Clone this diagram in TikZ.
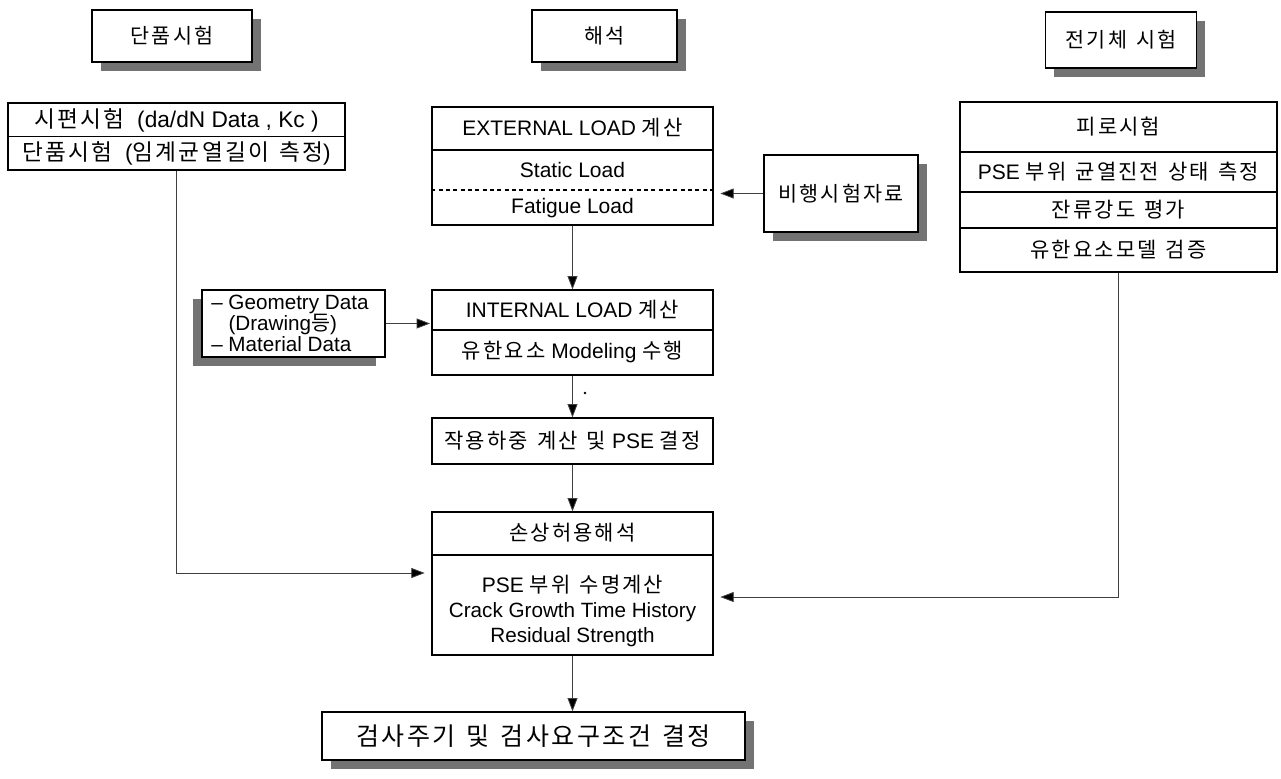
\documentclass[tikz,border=0pt]{standalone}
\usepackage{fontspec}
\setmainfont{Liberation Sans}
\newfontfamily\kr[LetterSpace=10,WordSpace=1.35]{Noto Sans CJK KR}
\newcommand{\hg}[1]{{\kr #1}}
\usetikzlibrary{arrows.meta,shadows,calc}
\begin{document}
\begin{tikzpicture}[x=0.75pt,y=-0.75pt,
  box/.style={draw, line width=1pt, fill=white, inner sep=0pt, font=\fontsize{15.5}{18}\selectfont},
  shad/.style={drop shadow={shadow xshift=6.5pt, shadow yshift=-6.5pt, fill=black!55, opacity=1}},
  lshad/.style={drop shadow={shadow xshift=-7pt, shadow yshift=-7pt, fill=black!55, opacity=1}},
  txt/.style={inner sep=0pt, font=\fontsize{15.75}{18}\selectfont},
  conn/.style={draw=black!75, line width=0.6pt, -{Triangle[length=10pt,width=7.5pt,fill=black]}},
  div/.style={line width=0.8pt}
]
\useasboundingbox (0,0) rectangle (1281,778);

% header boxes
\node[box,shad,minimum width=120pt,minimum height=39pt] (h1) at (172,36) {\hg{단품시험}};
\node[box,shad,minimum width=108.75pt,minimum height=39pt] (h2) at (604.5,36) {\hg{해석}};
\node[box,shad,minimum width=113.25pt,minimum height=42pt] (h3) at (1121,40) {\hg{전기체 시험}};

% left box
\node[box,minimum width=252.75pt,minimum height=50.25pt] (L) at (176.5,136.5) {};
\draw[div] (L.west) -- (L.east);
\node[txt,font=\fontsize{17}{20}\selectfont] (L1) at (176.5,120) {\hg{시편시험} \ (da/dN Data , Kc )};
\node[txt,font=\fontsize{17}{20}\selectfont] (L2) at (176.5,153) {\hg{단품시험} \ (\hg{임계균열길이 측정})};

% external load box
\node[box,minimum width=210.75pt,minimum height=88.5pt] (E) at (572.5,166) {};
\draw[div] (E.west |- 0,150) -- (E.east |- 0,150);
\draw[div, dash pattern=on 3pt off 2.5pt] (E.west |- 0,190) -- (E.east |- 0,190);
\node[txt] (E1) at (572.5,128) {EXTERNAL LOAD \hg{계산}};
\node[txt] (E2) at (572.5,170) {Static Load};
\node[txt] (E3) at (572.5,208) {Fatigue Load};

% flight test data
\node[box,shad,minimum width=115.5pt,minimum height=57.75pt] (F) at (841,193.5) {\hg{비행시험자료}};

% right box
\node[box,minimum width=237.75pt,minimum height=127.5pt] (R) at (1118.5,187) {};
\draw[div] (R.west |- 0,152) -- (R.east |- 0,152);
\draw[div] (R.west |- 0,192) -- (R.east |- 0,192);
\draw[div] (R.west |- 0,228) -- (R.east |- 0,228);
\node[txt] (R1) at (1118.5,127) {\hg{피로시험}};
\node[txt] (R2) at (1118.5,172) {PSE \hg{부위 균열진전 상태 측정}};
\node[txt] (R3) at (1118.5,210) {\hg{잔류강도 평가}};
\node[txt] (R4) at (1118.5,250) {\hg{유한요소모델 검증}};

% geometry box
\node[box,lshad,minimum width=137.25pt,minimum height=50.25pt] (G) at (293.5,323.5) {};
\node[txt,anchor=west,align=left,font=\fontsize{15.5}{15.5}\selectfont] (Gt) at (211,323.5)
  {– Geometry Data\\\phantom{– }(Drawing\hg{등})\\– Material Data};

% internal load box
\node[box,minimum width=210.75pt,minimum height=63.75pt] (I) at (572.5,332.5) {};
\draw[div] (I.west |- 0,330) -- (I.east |- 0,330);
\node[txt] (I1) at (572.5,310) {INTERNAL LOAD \hg{계산}};
\node[txt] (I2) at (572.5,352) {\hg{유한요소} Modeling \hg{수행}};

% applied load box
\node[box,minimum width=210.75pt,minimum height=34.5pt,font=\fontsize{15.75}{18}\selectfont] (A) at (572.5,441) {\hg{작용하중 계산 및} PSE \hg{결정}};

% damage tolerance box
\node[box,minimum width=210.75pt,minimum height=107.25pt] (D) at (572.5,583.5) {};
\draw[div] (D.west |- 0,555) -- (D.east |- 0,555);
\node[txt] (D1) at (572.5,533) {\hg{손상허용해석}};
\node[txt] (D2) at (572.5,585) {PSE \hg{부위 수명계산}};
\node[txt,font=\fontsize{15.5}{18}\selectfont] (D3) at (572.5,612) {Crack Growth Time History};
\node[txt,font=\fontsize{15.5}{18}\selectfont] (D4) at (572.5,637) {Residual Strength};

% final box
\node[box,shad,minimum width=317.25pt,minimum height=36pt,font=\fontsize{18.75}{22}\selectfont] (Z) at (533.5,736) {\hg{검사주기 및 검사요구조건 결정}};

% connectors
\draw[conn] (E.south) -- (I.north);
\draw[conn, shorten >=5pt] (F.west) -- (F.west -| E.east);
\draw[conn, shorten >=1pt] (G.east) -- (G.east -| I.west);
\draw[conn] (I.south) -- (A.north);
\fill (585,393) circle (1pt);
\draw[conn] (A.south) -- (D.north);
\draw[conn, shorten >=5pt] (L.south) |- ($(D.west)+(0,-10.5)$);
\draw[conn, shorten >=5pt] (R.south) |- ($(D.east)+(0,13.5)$);
\draw[conn] (D.south) -- (D.south |- Z.north);
\end{tikzpicture}
\end{document}
